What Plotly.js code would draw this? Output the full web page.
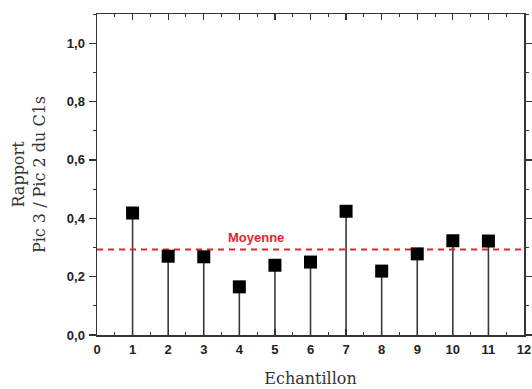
<!DOCTYPE html>
<html>
<head>
<meta charset="utf-8">
<script src="https://cdn.plot.ly/plotly-3.0.1.min.js"></script>
<style>html,body{margin:0;padding:0;background:#fff}#chart{width:532px;height:389px}</style>
</head>
<body>
<div id="chart"></div>
<script>
const echantillons = [1, 2, 3, 4, 5, 6, 7, 8, 9, 10, 11];
const rapports = [0.418, 0.270, 0.268, 0.165, 0.239, 0.250, 0.424, 0.219, 0.278, 0.323, 0.322];
const moyenne = 0.293;
const moyenneLabel = "Moyenne";
const xRange = [0, 12];
const yRange = [0, 1.1];

const stemX = [], stemY = [];
echantillons.forEach((x, i) => { stemX.push(x, x, null); stemY.push(0, rapports[i], null); });

const traces = [
  {x: stemX, y: stemY, mode: 'lines', line: {color: '#3a3a3a', width: 1.6}, hoverinfo: 'skip', showlegend: false},
  {x: xRange, y: [moyenne, moyenne], mode: 'lines', line: {color: '#e3262e', width: 2.2, dash: '6px,5px'}, showlegend: false},
  {x: echantillons, y: rapports, mode: 'markers', marker: {symbol: 'square', size: 13, color: '#000'}, showlegend: false}
];

const tickFont = {family: 'Liberation Sans, Arial, sans-serif', size: 13, color: '#222', weight: 'bold'};
const titleFont = {family: 'DejaVu Serif, serif', size: 16, color: '#333'};
const layout = {
  width: 532, height: 389,
  margin: {l: 97, r: 8, t: 14, b: 54},
  separators: ', ',
  paper_bgcolor: '#fff', plot_bgcolor: '#fff',
  xaxis: {
    range: xRange, dtick: 1, tick0: 0, ticks: 'inside', ticklen: 6, tickwidth: 1.3, tickcolor: '#333',
    minor: {dtick: 0.5, ticks: 'inside', ticklen: 3, tickwidth: 1, tickcolor: '#333'},
    showline: true, linecolor: '#333', linewidth: 1.5, mirror: 'ticks', showgrid: false, zeroline: false,
    tickfont: tickFont, ticklabelstandoff: 2,
    title: {text: 'Echantillon', font: titleFont, standoff: 16}
  },
  yaxis: {
    range: yRange, dtick: 0.2, tick0: 0, tickformat: '.1f', ticks: 'outside', ticklen: 7, tickwidth: 1.3, tickcolor: '#333',
    minor: {dtick: 0.1, ticks: 'outside', ticklen: 3, tickwidth: 1, tickcolor: '#333'},
    showline: true, linecolor: '#333', linewidth: 1.5, mirror: 'ticks', showgrid: false, zeroline: false,
    tickfont: tickFont, ticklabelstandoff: 1,
    title: {text: 'Rapport<br>Pic 3 / Pic 2 du C1s', font: titleFont, standoff: 17}
  },
  annotations: [{
    x: 4.47, y: moyenne, xref: 'x', yref: 'y', yanchor: 'bottom', yshift: 3,
    text: moyenneLabel, showarrow: false,
    font: {family: 'Liberation Sans, Arial, sans-serif', size: 13, color: '#e3262e', weight: 'bold'}
  }]
};
Plotly.newPlot('chart', traces, layout, {staticPlot: true, displayModeBar: false});
</script>
</body>
</html>
